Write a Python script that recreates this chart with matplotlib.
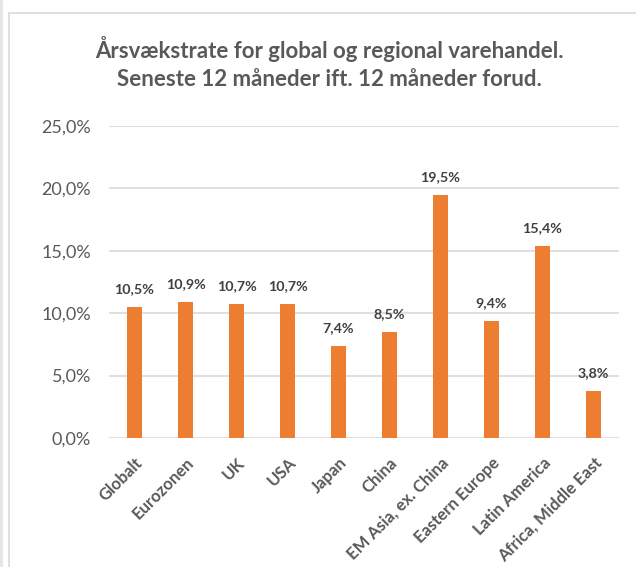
import matplotlib
matplotlib.use("Agg")
import matplotlib.pyplot as plt
from matplotlib.patches import Rectangle

categories = ["Globalt", "Eurozonen", "UK", "USA", "Japan", "China",
              "EM Asia, ex. China", "Eastern Europe", "Latin America",
              "Africa, Middle East"]
values = [10.5, 10.9, 10.7, 10.7, 7.4, 8.5, 19.5, 9.4, 15.4, 3.8]
yticks = [0, 5, 10, 15, 20, 25]

title = "Årsvækstrate for global og regional varehandel.\nSeneste 12 måneder ift. 12 måneder forud."

plt.rcParams['font.family'] = ['Lato', 'DejaVu Sans']

W, H = 636, 567
fig = plt.figure(figsize=(W/100, H/100), dpi=100)
fig.patch.set_facecolor("white")

# outer frame
fig.patches.append(Rectangle((0, 0), 3/W, 1, transform=fig.transFigure,
                             facecolor="#E6E6E6", edgecolor="none", zorder=0))
fig.patches.append(Rectangle((9/W, -0.1), 1.2, 1 - 13/H + 0.1, transform=fig.transFigure,
                             facecolor="none", edgecolor="#D9D9D9", linewidth=1.2, zorder=0))

ax = fig.add_axes([109/W, 1 - 438/H, 510/W, (438 - 126)/H])
x = list(range(len(categories)))
ax.bar(x, values, width=0.31, color="#ED7D31", zorder=3)

for xi, v in zip(x, values):
    ax.annotate(f"{v:.1f}".replace(".", ",") + "%", (xi, v), xytext=(0, 10),
                textcoords="offset points", ha="center", va="baseline",
                fontsize=10.3, fontweight="bold", color="#404040", zorder=4)

ax.set_ylim(0, 25)
ax.set_xlim(-0.5, len(categories) - 0.5)
ax.set_yticks(yticks)
ax.set_yticklabels([f"{t:.1f}".replace(".", ",") + "%" for t in yticks],
                   fontsize=13, color="#595959")
ax.set_xticks(x)
ax.set_xticklabels(categories, rotation=45, ha="right", rotation_mode="anchor",
                   fontsize=12, fontweight="bold", color="#595959")
ax.tick_params(axis="both", length=0)
ax.tick_params(axis="y", pad=13)
ax.tick_params(axis="x", pad=12)
ax.grid(axis="y", color="#D9D9D9", linewidth=1.2, zorder=0)
for s in ax.spines.values():
    s.set_visible(False)

fig.text(329/W, 1 - 63/H, title, ha="center", va="center", fontsize=16,
         fontweight="bold", color="#595959", linespacing=1.45)

fig.savefig("out.png", dpi=100)
